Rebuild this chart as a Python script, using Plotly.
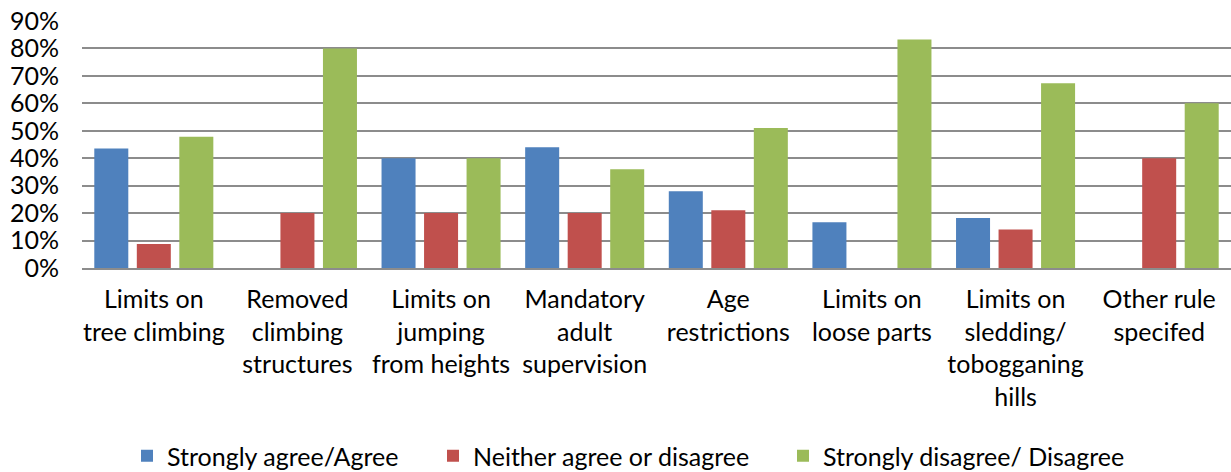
import plotly.graph_objects as go

categories = [
    "Limits on<br>tree climbing",
    "Removed<br>climbing<br>structures",
    "Limits on<br>jumping<br>from heights",
    "Mandatory<br>adult<br>supervision",
    "Age<br>restrictions",
    "Limits on<br>loose parts",
    "Limits on<br>sledding/<br>tobogganing<br>hills",
    "Other rule<br>specifed",
]

agree = [0.435, None, 0.40, 0.44, 0.28, 0.167, 0.182, None]
neither = [0.087, 0.20, 0.20, 0.20, 0.21, None, 0.14, 0.40]
disagree = [0.478, 0.80, 0.40, 0.36, 0.51, 0.833, 0.673, 0.60]

series_names = ["Strongly agree/Agree", "Neither agree or disagree", "Strongly disagree/ Disagree"]
series_colors = ["#4f81bd", "#c0504d", "#9bbb59"]

y_ticks = [0, 0.1, 0.2, 0.3, 0.4, 0.5, 0.6, 0.7, 0.8, 0.9]

W, H = 1231, 472
font_family = "Lato, Carlito, Calibri, sans-serif"
font_size = 25

# each series gets its own legend box so the entries sit where the
# Excel-style legend places them along the bottom
legend_ids = ["legend", "legend2", "legend3"]
legend_left_px = [127, 433, 783]

fig = go.Figure()
for name, vals, color, lid in zip(series_names, [agree, neither, disagree], series_colors, legend_ids):
    fig.add_trace(go.Bar(
        x=categories, y=vals, name=name, legend=lid,
        marker=dict(color=color, line=dict(width=0)),
    ))

legend_common = dict(
    orientation="h", xref="container", yref="container",
    xanchor="left", yanchor="middle", y=1 - 456 / H,
    font=dict(size=font_size, family=font_family, color="#000000"),
    bgcolor="rgba(0,0,0,0)", borderwidth=0,
)
legend_layout = {
    lid: dict(legend_common, x=px / W)
    for lid, px in zip(legend_ids, legend_left_px)
}

fig.update_layout(
    width=W, height=H,
    margin=dict(l=82, r=0, t=21, b=204),
    paper_bgcolor="white", plot_bgcolor="white",
    barmode="group", bargap=0.112, bargroupgap=0.2,
    font=dict(family=font_family, size=font_size, color="#000000"),
    showlegend=True,
    xaxis=dict(
        showgrid=False, showline=True, linecolor="#8c8c8c", linewidth=2,
        ticks="", tickfont=dict(size=font_size), ticklabelstandoff=8,
    ),
    yaxis=dict(
        range=[0, 0.9], tickvals=y_ticks, tickformat=".0%",
        showgrid=True, gridcolor="#8c8c8c", gridwidth=2,
        zeroline=False, showline=False, ticks="",
        tickfont=dict(size=font_size), ticklabelstandoff=22,
    ),
    **legend_layout,
)

fig.write_html("out.html")
